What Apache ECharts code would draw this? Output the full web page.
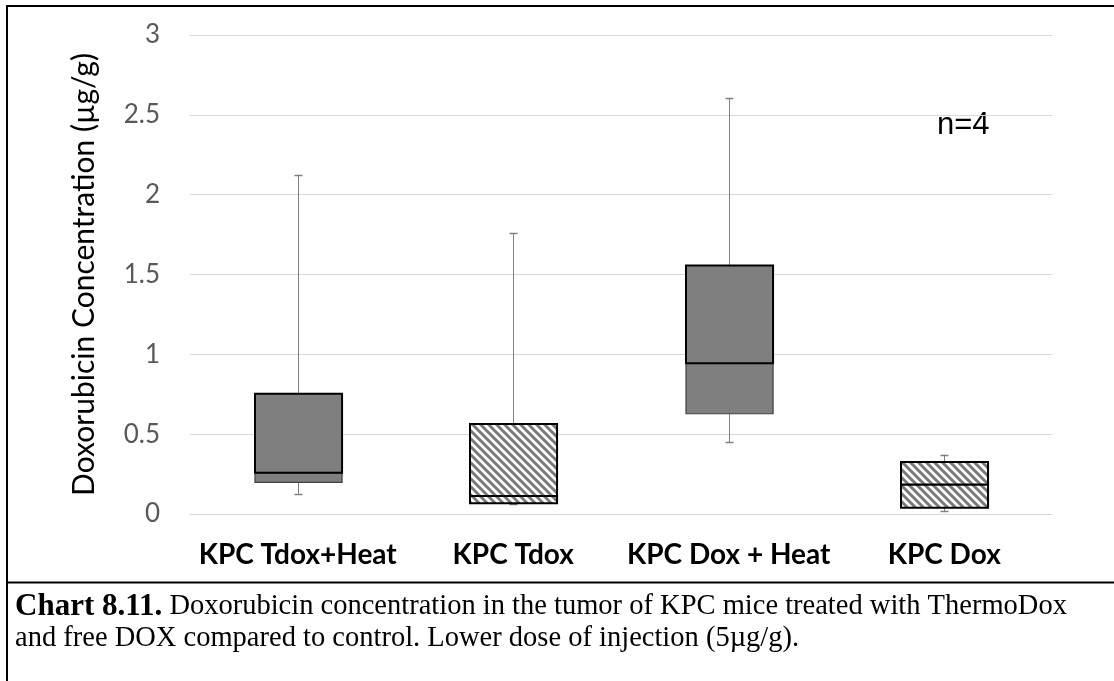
<!DOCTYPE html>
<html>
<head>
<meta charset="utf-8">
<script src="https://cdn.jsdelivr.net/npm/echarts@6/dist/echarts.min.js"></script>
<style>html,body{margin:0;padding:0;background:#fff;}#chart{width:1114px;height:681px;}</style>
</head>
<body>
<div id="chart"></div>
<script>
const categories = ['KPC Tdox+Heat', 'KPC Tdox', 'KPC Dox + Heat', 'KPC Dox'];
const mins    = [0.125, 0.065, 0.449, 0.019];
const q1s     = [0.198, 0.067, 0.628, 0.039];
const medians = [0.259, 0.113, 0.944, 0.184];
const q3s     = [0.753, 0.564, 1.557, 0.326];
const maxs    = [2.125, 1.760, 2.605, 0.371];
const fills   = ['solid', 'hatch', 'solid', 'hatch'];
const yTicks  = [0, 0.5, 1, 1.5, 2, 2.5, 3];

// hatch pattern (wide downward diagonal)
const pc = document.createElement('canvas');
pc.width = 8; pc.height = 8;
const ctx = pc.getContext('2d');
ctx.fillStyle = '#ffffff'; ctx.fillRect(0,0,8,8);
ctx.strokeStyle = '#7a7a7a'; ctx.lineWidth = 3;
for (let o = -8; o <= 8; o += 8) {
  ctx.beginPath(); ctx.moveTo(o - 2, -2); ctx.lineTo(o + 10, 10); ctx.stroke();
}
const hatch = {image: pc, repeat: 'repeat'};

const data = categories.map((c, i) => [i, mins[i], q1s[i], medians[i], q3s[i], maxs[i], fills[i] === 'hatch' ? 1 : 0]);

function renderItem(params, api) {
  const idx = api.value(0);
  const pMin = api.coord([idx, api.value(1)]);
  const pQ1 = api.coord([idx, api.value(2)]);
  const pMed = api.coord([idx, api.value(3)]);
  const pQ3 = api.coord([idx, api.value(4)]);
  const pMax = api.coord([idx, api.value(5)]);
  const isHatch = api.value(6) === 1;
  const bw = api.size([1, 0])[0] * 0.404;
  const cx = Math.round(pMed[0]) + 0.5;
  const x0 = Math.round(cx - bw / 2);
  const cap = 4;
  const wStyle = {stroke: '#808080', lineWidth: 1};
  const fill = isHatch ? hatch : '#7f7f7f';
  const children = [
    {type: 'line', shape: {x1: cx, y1: pMax[1], x2: cx, y2: pQ3[1]}, style: wStyle},
    {type: 'line', shape: {x1: cx - cap, y1: Math.round(pMax[1]) + 0.5, x2: cx + cap, y2: Math.round(pMax[1]) + 0.5}, style: {stroke: '#808080', lineWidth: 1.5}},
    {type: 'line', shape: {x1: cx, y1: pQ1[1], x2: cx, y2: pMin[1]}, style: wStyle},
    {type: 'line', shape: {x1: cx - cap, y1: Math.round(pMin[1]) + 0.5, x2: cx + cap, y2: Math.round(pMin[1]) + 0.5}, style: {stroke: '#808080', lineWidth: 1.5}},
    {type: 'rect', shape: {x: x0, y: pMed[1], width: bw, height: pQ1[1] - pMed[1]},
      style: {fill: fill, stroke: isHatch ? '#000000' : '#404040', lineWidth: isHatch ? 2 : 1.2}},
    {type: 'rect', shape: {x: x0, y: pQ3[1], width: bw, height: pMed[1] - pQ3[1]},
      style: {fill: fill, stroke: '#000000', lineWidth: 2}}
  ];
  return {type: 'group', children: children};
}

const chart = echarts.init(document.getElementById('chart'), null, {renderer: 'canvas'});
chart.setOption({
  animation: false,
  backgroundColor: '#ffffff',
  grid: {left: 190, right: 62, top: 35, bottom: 167, containLabel: false},
  xAxis: {
    type: 'category',
    data: categories,
    boundaryGap: true,
    axisLine: {show: true, lineStyle: {color: '#d9d9d9', width: 1}},
    axisTick: {show: false},
    axisLabel: {color: '#000000', fontFamily: 'Lato', fontWeight: 'bold', fontSize: 28, margin: 27, interval: 0}
  },
  yAxis: {
    type: 'value',
    min: yTicks[0], max: yTicks[yTicks.length - 1], interval: 0.5,
    name: 'Doxorubicin Concentration (µg/g)',
    nameLocation: 'middle', nameGap: 91,
    nameTextStyle: {color: '#000000', fontFamily: 'Lato', fontSize: 30},
    axisLine: {show: false}, axisTick: {show: false},
    axisLabel: {color: '#595959', fontFamily: 'Lato', fontSize: 26, margin: 30},
    splitLine: {lineStyle: {color: '#d9d9d9', width: 1}}
  },
  series: [{
    type: 'custom',
    renderItem: renderItem,
    data: data,
    encode: {x: 0, y: [1, 2, 3, 4, 5]},
    clip: false
  }],
  graphic: [
    {type: 'text', left: 937, top: 110, style: {text: 'n=4', fill: '#000', font: '31px "Liberation Sans"'}},
    {type: 'line', shape: {x1: 6, y1: 6, x2: 1114, y2: 6}, style: {stroke: '#000', lineWidth: 2}},
    {type: 'line', shape: {x1: 7, y1: 5, x2: 7, y2: 681}, style: {stroke: '#000', lineWidth: 2}},
    {type: 'line', shape: {x1: 6, y1: 582.5, x2: 1114, y2: 582.5}, style: {stroke: '#000', lineWidth: 2}},
    {type: 'text', left: 15, top: 591, style: {
      rich: {b: {font: 'bold 31px "Liberation Serif"', fill: '#000'}, n: {font: '28.5px "Liberation Serif"', fill: '#000'}},
      text: '{b|Chart 8.11.}{n| Doxorubicin concentration in the tumor of KPC mice treated with ThermoDox}', fill: '#000'}},
    {type: 'text', left: 15, top: 624, style: {text: 'and free DOX compared to control. Lower dose of injection (5µg/g).', font: '28.5px "Liberation Serif"', fill: '#000'}}
  ]
});
</script>
</body>
</html>
